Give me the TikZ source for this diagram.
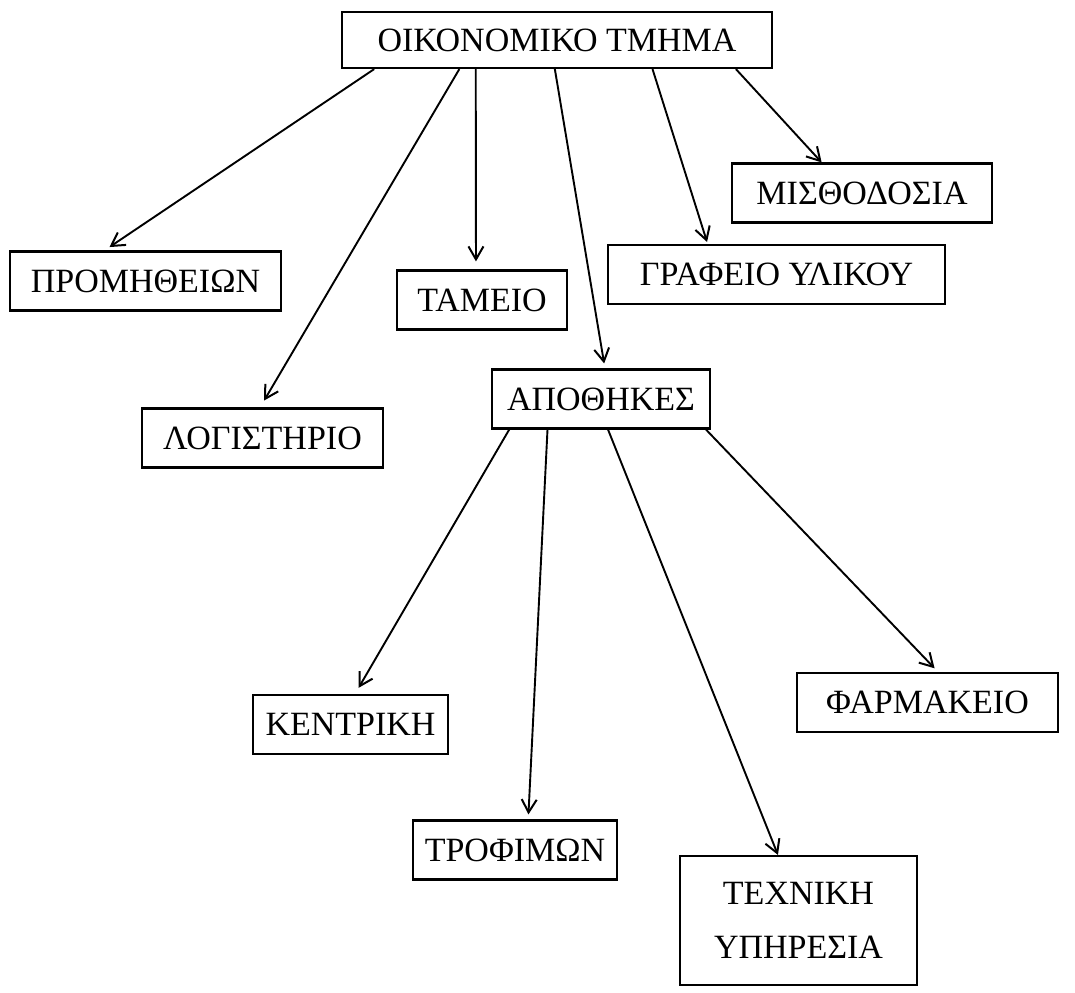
\documentclass[tikz,border=0pt]{standalone}
\usepackage{fontspec}
\setmainfont{Liberation Serif}
\usetikzlibrary{arrows.meta,calc}
\tikzset{
  >={Straight Barb[length=6.5pt,width=7.5pt,line width=1pt]},
  unit/.style={draw,line width=1.1pt,inner sep=0pt,minimum height=29.5pt,
               align=center,font=\fontsize{17}{26}\selectfont},
  link/.style={->,line width=0.95pt},
}
\begin{document}
\begin{tikzpicture}[x=0.5pt,y=-0.5pt]
  \useasboundingbox (0,0) rectangle (1075,992);

  % ---- head of the department ----
  \node[unit,minimum width=215pt,minimum height=28pt] (fin) at (557,40) {ΟΙΚΟΝΟΜΙΚΟ ΤΜΗΜΑ};

  % ---- first level ----
  \node[unit,minimum width=135.5pt] (prom) at (145.5,281) {ΠΡΟΜΗΘΕΙΩΝ};
  \node[unit,minimum width=120.5pt] (log) at (262.5,438) {ΛΟΓΙΣΤΗΡΙΟ};
  \node[unit,minimum width=85pt] (tam) at (482,300) {ΤΑΜΕΙΟ};
  \node[unit,minimum width=109pt] (apo) at (601,399) {ΑΠΟΘΗΚΕΣ};
  \node[unit,minimum width=168.5pt] (graf) at (776.5,274.5) {ΓΡΑΦΕΙΟ ΥΛΙΚΟΥ};
  \node[unit,minimum width=130pt] (mis) at (862,193) {ΜΙΣΘΟΔΟΣΙΑ};

  % ---- stores ----
  \node[unit,minimum width=97.5pt] (ken) at (350.5,724.5) {ΚΕΝΤΡΙΚΗ};
  \node[unit,minimum width=102pt] (tro) at (515,850) {ΤΡΟΦΙΜΩΝ};
  \node[unit,minimum width=118.5pt,minimum height=64.5pt] (tex) at (798.5,920.5) {ΤΕΧΝΙΚΗ\\[1pt]ΥΠΗΡΕΣΙΑ};
  \node[unit,minimum width=130.5pt] (far) at (927.5,702.5) {ΦΑΡΜΑΚΕΙΟ};

  % ---- department -> offices ----
  \draw[link,shorten >=3pt] ($(fin.south west)!0.077!(fin.south east)$) -- ($(prom.north west)!0.35!(prom.north east)$);
  \draw[link,shorten >=4pt] ($(fin.south west)!0.274!(fin.south east)$) -- ($(log.north west)!0.49!(log.north east)$);
  \draw[link,shorten >=4pt] ($(fin.south west)!0.312!(fin.south east)$) -- ($(tam.north west)!0.465!(tam.north east)$);
  \draw[link,shorten >=2.5pt] ($(fin.south west)!0.495!(fin.south east)$) -- ($(apo.north west)!0.518!(apo.north east)$);
  \draw[link,shorten >=1pt] ($(fin.south west)!0.721!(fin.south east)$) -- ($(graf.north west)!0.297!(graf.north east)$);
  \draw[link] ($(fin.south west)!0.914!(fin.south east)$) -- ($(mis.north west)!0.346!(mis.north east)$);

  % ---- stores -> branches ----
  \draw[link,shorten >=3.5pt] ($(apo.south west)!0.083!(apo.south east)$) -- ($(ken.north west)!0.523!(ken.north east)$);
  \draw[link,shorten >=2.5pt] ($(apo.south west)!0.257!(apo.south east)$) -- ($(tro.north west)!0.564!(tro.north east)$);
  \draw[link] ($(apo.south west)!0.532!(apo.south east)$) -- ($(tex.north west)!0.414!(tex.north east)$);
  \draw[link,shorten >=2.5pt] ($(apo.south west)!0.977!(apo.south east)$) -- ($(far.north west)!0.54!(far.north east)$);
\end{tikzpicture}
\end{document}
